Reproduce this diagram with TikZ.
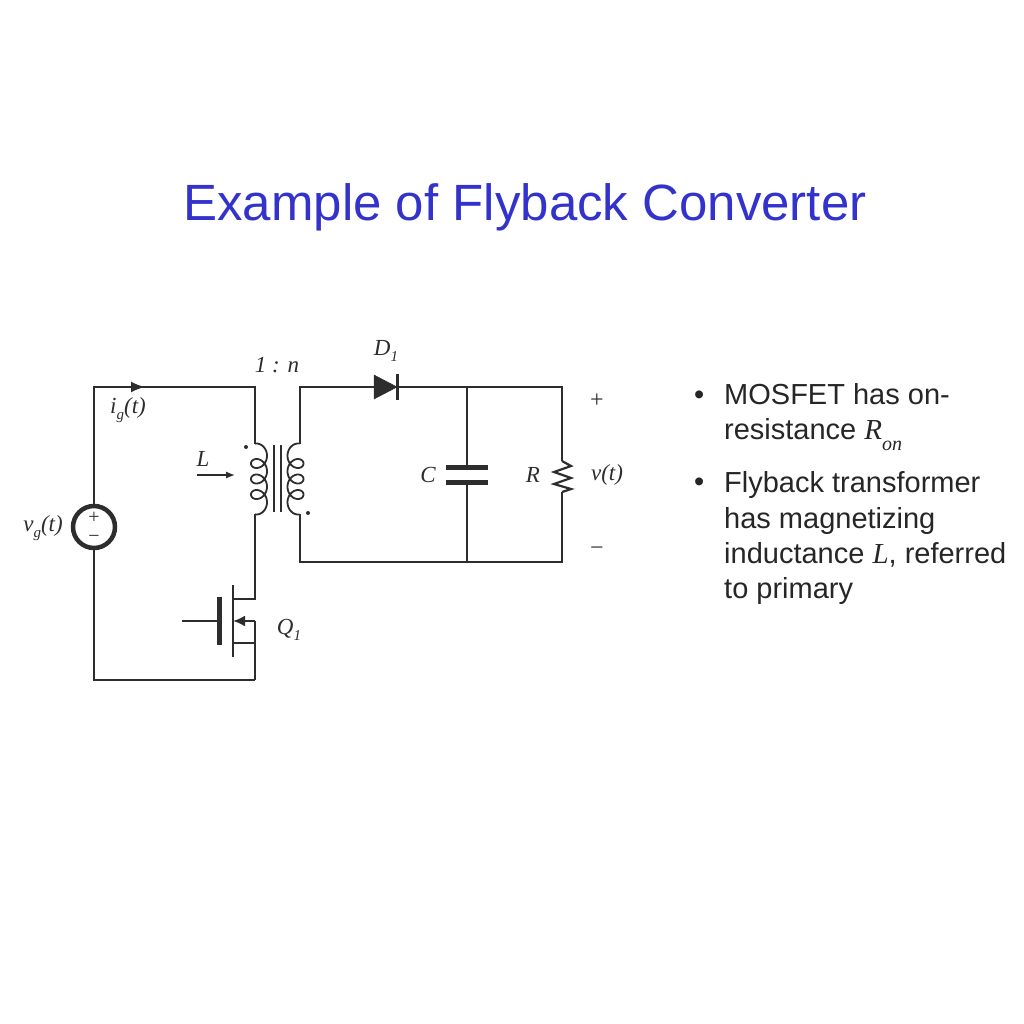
\documentclass[tikz,border=0pt]{standalone}
\usepackage{fontspec}
\setmainfont{Liberation Sans}
\newfontfamily\cktfont{Liberation Serif}
\usetikzlibrary{positioning, arrows.meta, calc}
\definecolor{titleblue}{RGB}{51,51,204}
\definecolor{wirecol}{RGB}{45,45,45}
\newcommand{\cktlab}[2]{{\cktfont\itshape #1\raisebox{-0.28em}{\fontsize{15}{15}\selectfont #2}}}
\begin{document}
\begin{tikzpicture}[x=1pt, y=-1pt]
            % Define styles
            \tikzstyle{wire} = [draw=wirecol, line width=2.2pt, line join=miter]
            \tikzstyle{plate} = [draw=wirecol, line width=5pt]
            \tikzstyle{thin wire} = [draw=wirecol, line width=1.3pt]
            \tikzstyle{ckt} = [inner sep=0pt, text=wirecol, font=\cktfont\itshape\fontsize{23}{23}\selectfont]
            \tikzstyle{sign} = [inner sep=0pt, text=wirecol, font=\cktfont\fontsize{24}{24}\selectfont]
            \tikzstyle{bullettext} = [inner sep=0pt, anchor=base west, text=black!85, font=\fontsize{29}{29}\selectfont]
            \tikzstyle{dotmark} = [circle, fill=wirecol, inner sep=0pt, minimum size=4pt]

            \useasboundingbox (0,0) rectangle (1024,1024);

            % Title
            \node[inner sep=0pt, text=titleblue, font=\fontsize{51}{51}\selectfont] (title) at (525,207) {Example of Flyback Converter};

            % Corners of the primary loop
            \coordinate (ptl) at (94,387);
            \coordinate (ptr) at (255,387);
            \coordinate (pcoiltop) at (255,444);
            \coordinate (pcoilbot) at (255,514);
            \coordinate (pbl) at (94,680);
            \coordinate (pbr) at (255,680);

            % Corners of the secondary loop
            \coordinate (stl) at (300,387);
            \coordinate (scoiltop) at (300,444);
            \coordinate (scoilbot) at (300,514);
            \coordinate (sbl) at (300,562);
            \coordinate (str) at (562,387);
            \coordinate (sbr) at (562,562);
            \coordinate (ctop) at (467,387);
            \coordinate (cbot) at (467,562);
            \coordinate (dleft) at (374,387);
            \coordinate (dright) at (397,387);

            % Source
            \node[circle, draw=wirecol, line width=4.5pt, minimum size=42pt, inner sep=0pt] (vg) at (94,527) {};
            \node[sign, font=\cktfont\fontsize{20}{20}\selectfont] (vgplus) at (94,518) {+};
            \node[sign, font=\cktfont\fontsize{20}{20}\selectfont] (vgminus) at (94,539) {\textminus};

            % Primary wires
            \draw[wire] (vg.north) -- (ptl) -- (ptr) -- (pcoiltop);
            \draw[wire] (vg.south) -- (pbl) -- (pbr);

            % Input current arrow
            \coordinate (igtail) at (125,387);
            \coordinate (igtip) at (145,387);
            \draw[wire, -{Latex[length=14pt,width=11pt]}] (igtail) -- (igtip);

            % Transformer windings
            \draw[wire, line width=1.8pt, domain=-120:1200, samples=160, smooth] plot ({259+8*cos(\x)}, {455.75+0.04306*\x+8*sin(\x)});
            \draw[wire, line width=1.8pt, domain=-120:1200, samples=160, smooth] plot ({295.5-8*cos(\x)}, {455.75+0.04306*\x+8*sin(\x)});
            \coordinate (corea) at (274,445);
            \coordinate (coreb) at (281,445);
            \coordinate (corec) at (274,512);
            \coordinate (cored) at (281,512);
            \draw[thin wire] (corea) -- (corec);
            \draw[thin wire] (coreb) -- (cored);
            \node[dotmark] (dotp) at (246,447) {};
            \node[dotmark] (dots) at (308,513) {};

            % Magnetizing inductance arrow
            \coordinate (ltail) at (197,475);
            \coordinate (ltip) at (235,475);
            \draw[thin wire, -{Latex[length=9pt,width=7pt]}] (ltail) -- (ltip);

            % MOSFET
            \coordinate (mdrain) at (255,599);
            \coordinate (msource) at (255,643);
            \coordinate (mmid) at (255,621);
            \coordinate (chtop) at (233,585);
            \coordinate (chbot) at (233,657);
            \draw[wire] (pcoilbot) -- (mdrain) -- (mdrain -| chtop);
            \draw[wire] (pbr) -- (mmid);
            \draw[wire] (msource) -- (msource -| chtop);
            \draw[wire, -{Latex[length=12pt,width=11pt]}] (mmid) -- (mmid -| chtop);
            \draw[wire] (chtop) -- (chbot);
            \coordinate (gatetop) at (219,597);
            \coordinate (gatebot) at (219,645);
            \coordinate (gatein) at (182,621);
            \draw[plate] (gatetop) -- (gatebot);
            \draw[wire] (gatein) -- (gatein -| gatetop);

            % Secondary wires
            \draw[wire] (scoiltop) -- (stl) -- (str) -- (562,461);
            \draw[wire] (scoilbot) -- (sbl) -- (sbr) -- (562,492);

            % Diode
            \filldraw[wirecol, line width=0.5pt] (dleft) ++(0,-12) -- ++(23,12) -- ++(-23,12) -- cycle;
            \draw[wire, line width=3pt] ($(dright)+(0,-13)$) -- ($(dright)+(0,13)$);

            % Capacitor
            \coordinate (capa) at (467,467);
            \coordinate (capb) at (467,482);
            \draw[wire] (ctop) -- (capa);
            \draw[wire] (cbot) -- (capb);
            \draw[plate] ($(capa)+(-21,0)$) -- ($(capa)+(21,0)$);
            \draw[plate] ($(capb)+(-21,0)$) -- ($(capb)+(21,0)$);

            % Resistor
            \draw[wire] (562,461) -- (571,466) -- (554,472) -- (571,478) -- (554,484) -- (571,489) -- (562,492);

            % Circuit labels
            \node[ckt] (labn) at (277,365) {1 : n};
            \node[ckt] (labd) at (386,351) {\cktlab{D}{1}};
            \node[ckt] (labig) at (128,410) {i\raisebox{-0.28em}{\fontsize{15}{15}\selectfont g}(t)};
            \node[ckt] (labvg) at (43,528) {v\raisebox{-0.28em}{\fontsize{15}{15}\selectfont g}(t)};
            \node[ckt] (labl) at (203,459) {L};
            \node[ckt] (labq) at (289,630) {\cktlab{Q}{1}};
            \node[ckt] (labc) at (428,475) {C};
            \node[ckt] (labr) at (533,475) {R};
            \node[ckt] (labv) at (607,475) {v(t)};
            \node[sign] (plus) at (597,401) {+};
            \node[sign] (minus) at (597,551) {\textminus};

            % Bullet text
            \node[bullettext] (bula) at (694,404) {•};
            \node[bullettext] (bulb) at (694,491) {•};
            \node[bullettext] (ta) at (724,404) {MOSFET has on-};
            \node[bullettext] (tb) at (724,439) {resistance {\cktfont\itshape R\raisebox{-0.38em}{\fontsize{20}{20}\selectfont on}}};
            \node[bullettext] (tc) at (724,492) {Flyback transformer};
            \node[bullettext] (td) at (724,528) {has magnetizing};
            \node[bullettext] (te) at (724,563) {inductance {\cktfont\itshape L}, referred};
            \node[bullettext] (tf) at (724,598) {to primary};
        \end{tikzpicture}
\end{document}
